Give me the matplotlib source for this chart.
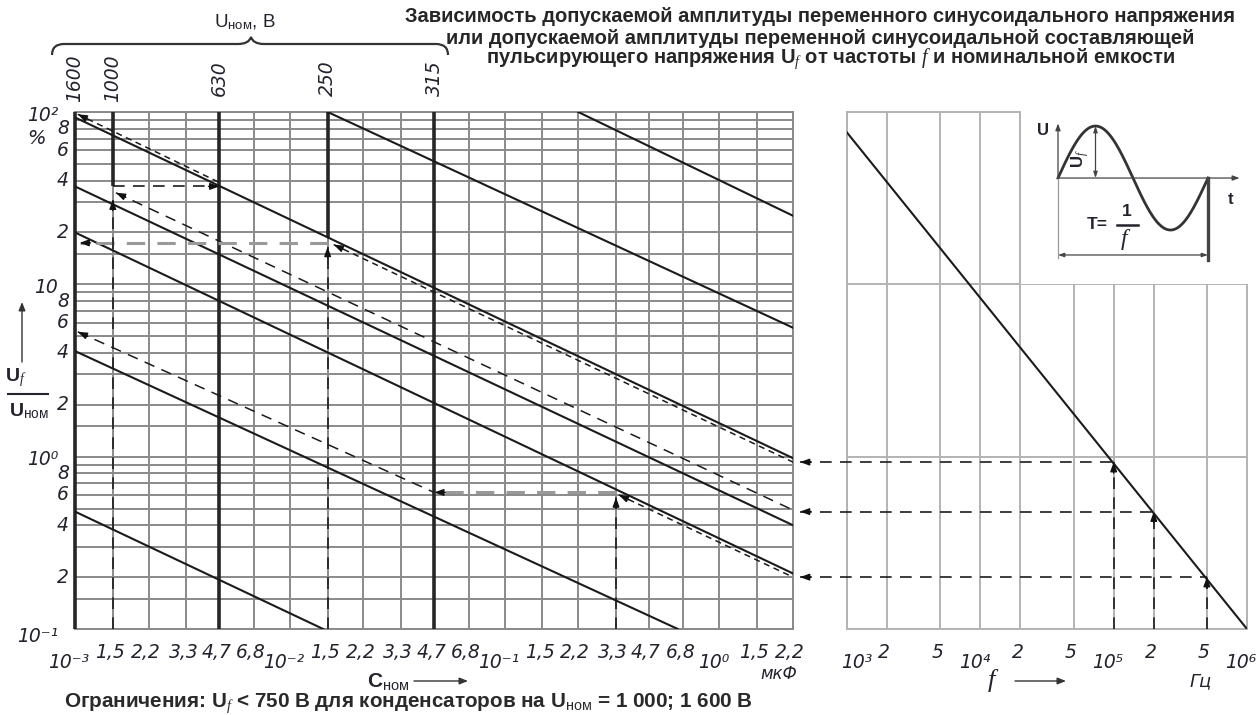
"""Nomogram: permissible AC ripple amplitude vs. capacitance and frequency."""

import matplotlib

matplotlib.use("Agg")

import matplotlib.pyplot as plt  # noqa: E402
import numpy as np  # noqa: E402
from matplotlib.patches import PathPatch  # noqa: E402
from matplotlib.path import Path  # noqa: E402
from matplotlib.ticker import NullLocator  # noqa: E402

plt.rcParams["font.family"] = ["Liberation Sans", "DejaVu Sans"]
plt.rcParams["mathtext.fontset"] = "custom"
plt.rcParams["mathtext.rm"] = "Liberation Sans"
plt.rcParams["mathtext.it"] = "Liberation Serif:italic"
plt.rcParams["mathtext.bf"] = "Liberation Sans:bold"

W, H = 1256, 715

# --- axes values ---------------------------------------------------------
c_ticks = [1e-3, 1.5e-3, 2.2e-3, 3.3e-3, 4.7e-3, 6.8e-3,
           1e-2, 1.5e-2, 2.2e-2, 3.3e-2, 4.7e-2, 6.8e-2,
           1e-1, 0.15, 0.22, 0.33, 0.47, 0.68,
           1.0, 1.5, 2.2]
c_labels = ["10⁻³", "1,5", "2,2", "3,3", "4,7", "6,8",
            "10⁻²", "1,5", "2,2", "3,3", "4,7", "6,8",
            "10⁻¹", "1,5", "2,2", "3,3", "4,7", "6,8",
            "10⁰", "1,5", "2,2"]

u_grid = [0.1, 0.15, 0.2, 0.3, 0.4, 0.5, 0.6, 0.7, 0.8, 0.9,
          1, 1.5, 2, 3, 4, 5, 6, 7, 8, 9,
          10, 15, 20, 30, 40, 50, 60, 70, 80, 90, 100]
u_ticks = [100, 80, 60, 40, 20, 10, 8, 6, 4, 2, 1, 0.8, 0.6, 0.4, 0.2, 0.1]
u_labels = ["10²", "8", "6", "4", "2", "10", "8", "6", "4", "2",
            "10⁰", "8", "6", "4", "2", "10⁻¹"]

f_ticks = [1e3, 2e3, 5e3, 1e4, 2e4, 5e4, 1e5, 2e5, 5e5, 1e6]
f_labels = ["10³", "2", "5", "10⁴", "2", "5", "10⁵", "2", "5", "10⁶"]
f_grid_u = [0.1, 1, 10, 100]

# rated voltage lines (U_ном, В) and where their bold part ends below
u_nom = ["1600", "1000", "630", "250", "315"]
u_nom_c = [1e-3, 1.5e-3, 4.7e-3, 1.5e-2, 4.7e-2]
u_nom_low = [0.1, 37, 0.1, 18.8, 0.1]

# solid characteristic lines: (C start, C end), (U start, U end)
curve_c = [(1e-3, 2.2), (1e-3, 2.2), (1e-3, 2.2), (1e-3, 0.64),
           (1e-3, 0.0143), (0.015, 2.2), (0.22, 2.2)]
curve_u = [(93, 0.98), (37, 0.40), (20, 0.21), (4.1, 0.1),
           (0.48, 0.1), (100, 5.6), (100, 25)]

# dashed example guides (arrow at the first point)
guide_c = [(1.03e-3, 4.7e-3), (0.016, 2.2), (1.55e-3, 2.2),
           (1.03e-3, 0.047), (0.34, 2.2)]
guide_u = [(97, 39), (17, 0.93), (34, 0.49), (5.3, 0.62), (0.6, 0.2)]
guide_fine = [True, True, False, False, True]

# horizontal read-offs (arrow at the second C) and vertical read-ups
hread_u = [37, 17.4, 0.62]
hread_c = [(1.5e-3, 4.7e-3), (1.5e-2, 1.05e-3), (0.33, 0.047)]
hread_gray = [False, True, True]
vread_c = [1.5e-3, 1.5e-2, 0.33]
vread_u = [31, 16.5, 0.58]

# frequency panel
f_line = [1e3, 1e6]
u_line = [76, 0.1]
read_f = [1e5, 2e5, 5e5]
read_u = [0.93, 0.48, 0.2]

DASH = (0, (7, 5))
FINE = (0, (4, 3))
INK = "#1b1b1b"
TXT = "#23232e"
ITAL = dict(family=["Liberation Sans Narrow", "DejaVu Sans"],
            style="italic", color=TXT)
TICK_FS = 13.5

fig = plt.figure(figsize=(W / 100, H / 100), dpi=100)


def head(ax, tip, base, size=11):
    """Solid arrow head at tip, pointing away from base."""
    p_tip = ax.transData.transform(tip)
    p_base = ax.transData.transform(base)
    d = p_base - p_tip
    d = d / np.hypot(*d) * size
    ax.annotate("", xy=tip, xytext=(d[0], d[1]), textcoords="offset pixels",
                arrowprops=dict(arrowstyle="-|>,head_length=0.55,head_width=0.2",
                                color="#111", lw=1.0, shrinkA=0, shrinkB=0),
                annotation_clip=False, zorder=6)


def log_axes(rect, xlim, xgrid, ygrid, grid_color):
    ax = fig.add_axes(rect)
    ax.set_xscale("log")
    ax.set_yscale("log")
    ax.set_xlim(*xlim)
    ax.set_ylim(0.1, 100)
    ax.set_xticks(xgrid)
    ax.set_yticks(ygrid)
    ax.xaxis.set_minor_locator(NullLocator())
    ax.yaxis.set_minor_locator(NullLocator())
    ax.tick_params(length=0, labelbottom=False, labelleft=False)
    ax.grid(True, color=grid_color, lw=1.4)
    for s in ax.spines.values():
        s.set_color(grid_color)
        s.set_linewidth(1.4)
    return ax


def xlabels(ax, ticks, labels, first_dx=None):
    for i, (v, lab) in enumerate(zip(ticks, labels)):
        decade = lab.startswith("10")
        dx, dy = (-6, -34) if decade else (-3, -24)
        if i == 0 and first_dx is not None:
            dx = first_dx
        ax.annotate(lab, xy=(v, 0), xycoords=("data", "axes fraction"),
                    xytext=(dx, dy), textcoords="offset pixels",
                    ha="center", va="center", fontsize=TICK_FS,
                    annotation_clip=False, **ITAL)


# --- capacitance panel ----------------------------------------------------
ax = log_axes([75 / W, 1 - 629 / H, 718 / W, 517 / H], (1e-3, 2.2),
              c_ticks, u_grid, "#8a8a8a")

for c, lo in zip(u_nom_c, u_nom_low):
    ax.plot([c, c], [lo, 100], color="#262626", lw=2.6, zorder=4,
            clip_on=False, solid_capstyle="butt")

for c, u in zip(curve_c, curve_u):
    ax.plot(c, u, color=INK, lw=1.5, zorder=4)

for c, u, fine in zip(guide_c, guide_u, guide_fine):
    ax.plot(c, u, color=INK, lw=1.1, ls=FINE if fine else DASH, zorder=4)
    head(ax, (c[0], u[0]), (c[1], u[1]))

for u, c, gray in zip(hread_u, hread_c, hread_gray):
    ax.plot(c, [u, u], color="#9a9a9a" if gray else INK,
            lw=2.2 if gray else 1.2, ls=(0, (6, 4)) if gray else DASH,
            zorder=4, clip_on=False)
    head(ax, (c[1], u), (c[0], u))

for c, u in zip(vread_c, vread_u):
    ax.plot([c, c], [0.1, u], color=INK, lw=1.2, ls=DASH, zorder=4)
    head(ax, (c, u), (c, 0.1))

xlabels(ax, c_ticks, c_labels)

for v, lab in zip(u_ticks, u_labels):
    decade = lab.startswith("10")
    dx = -17 if decade else -6
    dy = -3 if decade else 0
    if v == 0.1:
        dy = -8
    ax.annotate(lab, xy=(0, v), xycoords=("axes fraction", "data"),
                xytext=(dx, dy), textcoords="offset pixels",
                ha="right", va="center", fontsize=TICK_FS,
                annotation_clip=False, **ITAL)

for c, lab in zip(u_nom_c, u_nom):
    ax.annotate(lab, xy=(c, 1), xycoords=("data", "axes fraction"),
                xytext=(0, 34), textcoords="offset pixels", rotation=90,
                ha="center", va="center", fontsize=TICK_FS,
                annotation_clip=False, **ITAL)

# --- frequency panel -------------------------------------------------------
ax2 = log_axes([847 / W, 1 - 629 / H, 400 / W, 517 / H], (1e3, 1e6),
               f_ticks, f_grid_u, "#b3b3b3")
ax2.plot(f_line, u_line, color=INK, lw=1.5, zorder=4)

# white field for the waveform sketch
ax2.axvspan(2e4, 1.25e6, ymin=2 / 3, ymax=1.03, fc="white", ec="none",
            zorder=3, clip_on=False)
ax2.plot([2e4, 2e4], [10, 100], color="#b3b3b3", lw=1.4, zorder=3.5,
         clip_on=False)

f_tip = 1e3 * 10 ** (3 * (800 - 847) / 400)
for f, u in zip(read_f, read_u):
    ax2.plot([f, f], [0.1, u], color=INK, lw=1.2, ls=DASH, zorder=4)
    head(ax2, (f, u), (f, 0.1))
    ax2.plot([f_tip, f], [u, u], color=INK, lw=1.2, ls=DASH, zorder=4,
             clip_on=False)
    head(ax2, (f_tip, u), (f, u))

xlabels(ax2, f_ticks, f_labels, first_dx=10)

# --- waveform sketch -------------------------------------------------------
ins = fig.add_axes([1040 / W, 1 - 275 / H, 210 / W, 163 / H])
ins.set_xlim(-0.12, 1.28)
ins.set_ylim(-1.865, 1.27)
ins.axis("off")
t = np.linspace(0, 1, 200)
ins.plot(t, np.sin(2 * np.pi * t), color="#333", lw=2.0)
arr = dict(color="#444", lw=0.9, shrinkA=0, shrinkB=0)
ins.annotate("", xy=(0, 1.05), xytext=(0, 0),
             arrowprops=dict(arrowstyle="-|>,head_length=0.4,head_width=0.15", **arr))
ins.annotate("", xy=(1.21, 0), xytext=(0, 0),
             arrowprops=dict(arrowstyle="-|>,head_length=0.4,head_width=0.15", **arr))
ins.annotate("", xy=(0.25, 1), xytext=(0.25, 0),
             arrowprops=dict(arrowstyle="<|-|>,head_length=0.35,head_width=0.12", **arr))
ins.annotate("", xy=(1, -1.48), xytext=(0, -1.48),
             arrowprops=dict(arrowstyle="<|-|>,head_length=0.35,head_width=0.12", **arr))
ins.plot([0, 0], [0, -1.54], color="#999", lw=0.9)
ins.plot([1, 1], [0, -1.58], color="#444", lw=2.4)
bold = dict(weight="bold", color=TXT, ha="center", va="center")
ins.text(-0.1, 0.92, "U", fontsize=12, **bold)
ins.text(1.15, -0.42, "t", fontsize=12, **bold)
ins.text(0.15, 0.38, "U$_{f}$", fontsize=12, rotation=90, **bold)
ins.text(0.26, -0.9, "T=", fontsize=12.5, **bold)
ins.text(0.46, -0.64, "1", fontsize=12.5, **bold)
ins.plot([0.39, 0.53], [-0.91, -0.91], color=TXT, lw=1.8)
ins.text(0.45, -1.19, "$f$", fontsize=17, color=TXT, ha="center", va="center")

# --- annotations in pixel space -------------------------------------------
ov = fig.add_axes([0, 0, 1, 1], zorder=5)
ov.set_xlim(0, W)
ov.set_ylim(H, 0)
ov.axis("off")

title = ["Зависимость допускаемой амплитуды переменного синусоидального напряжения",
         "или допускаемой амплитуды переменной синусоидальной составляющей",
         "пульсирующего напряжения U$_{f}$ от частоты $f$ и номинальной емкости"]
title_xy = [(820, 17), (820, 38), (831, 59)]
renderer = fig.canvas.get_renderer()
tt = [ov.text(x, y, s, ha="center", va="center", fontsize=14, weight="bold",
              color="#262626") for s, (x, y) in zip(title, title_xy)]
scale = 834 / tt[0].get_window_extent(renderer).width
for txt in tt:
    txt.set_fontsize(14 * scale)

note = ov.text(408, 703, "Ограничения: U$_{f}$ < 750 В для конденсаторов на "
               "U$_{\\mathrm{ном}}$ = 1 000; 1 600 В", ha="center", va="center",
               fontsize=12, weight="bold", color="#2a2a2a")
note.set_fontsize(12 * 687 / note.get_window_extent(renderer).width)

# brace over the rated-voltage labels
brace = Path([(52, 55), (52, 44), (64, 44), (238, 44), (249, 44), (251, 37),
              (253, 44), (264, 44), (436, 44), (448, 44), (448, 55)],
             [Path.MOVETO, Path.CURVE3, Path.CURVE3, Path.LINETO,
              Path.CURVE3, Path.CURVE3, Path.CURVE3, Path.CURVE3,
              Path.LINETO, Path.CURVE3, Path.CURVE3])
ov.add_patch(PathPatch(brace, fc="none", ec="#333", lw=1.6))
ov.text(245, 22, "U$_{\\mathrm{ном}}$, В", ha="center", va="center",
        fontsize=13.5, color=TXT)

# y-axis quantity
ov.text(16, 378, "U$_{f}$", ha="center", va="center", fontsize=14,
        weight="bold", color=TXT)
ov.plot([8, 48], [394, 394], color=TXT, lw=1.5)
ov.text(29, 411, "U$_{\\mathrm{ном}}$", ha="center", va="center", fontsize=14,
        weight="bold", color=TXT)
ov.annotate("", xy=(22, 302), xytext=(22, 362),
            arrowprops=dict(arrowstyle="-|>,head_length=0.5,head_width=0.2",
                            color="#333", lw=1.0, shrinkA=0, shrinkB=0))
ov.text(36, 138, "%", ha="center", va="center", fontsize=14, **ITAL)

# x-axis quantities
ov.text(388, 682, "C$_{\\mathrm{ном}}$", ha="center", va="center", fontsize=15,
        weight="bold", color=TXT)
ov.annotate("", xy=(468, 681), xytext=(414, 681),
            arrowprops=dict(arrowstyle="-|>,head_length=0.5,head_width=0.2",
                            color="#333", lw=1.0, shrinkA=0, shrinkB=0))
ov.text(779, 674, "мкФ", ha="center", va="center", fontsize=12, **ITAL)
ov.text(993, 680, "$f$", ha="center", va="center", fontsize=19, color=TXT)
ov.annotate("", xy=(1066, 681), xytext=(1015, 681),
            arrowprops=dict(arrowstyle="-|>,head_length=0.5,head_width=0.2",
                            color="#333", lw=1.0, shrinkA=0, shrinkB=0))
ov.text(1201, 681, "Гц", ha="center", va="center", fontsize=13, **ITAL)

fig.savefig("out.png", dpi=100)
